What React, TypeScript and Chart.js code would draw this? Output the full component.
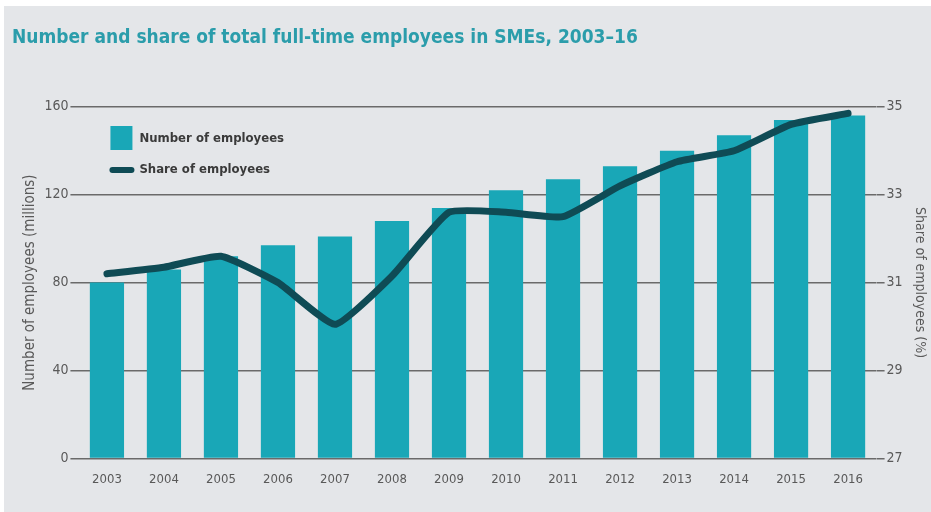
import React, { useEffect, useRef } from "react";
import { Chart, registerables } from "chart.js";

Chart.register(...registerables);

const years = ["2003", "2004", "2005", "2006", "2007", "2008", "2009", "2010", "2011", "2012", "2013", "2014", "2015", "2016"];
const employees = [80, 86, 92, 97, 101, 108, 114, 122, 127, 133, 140, 147, 154, 156];
const share = [31.2, 31.35, 31.6, 31.0, 30.05, 31.15, 32.6, 32.6, 32.5, 33.2, 33.75, 34.0, 34.6, 34.85];
const leftTicks = [0, 40, 80, 120, 160];
const rightTicks = [27, 29, 31, 33, 35];

const titleText = "Number and share of total full-time employees in SMEs, 2003–16";
const leftTitle = "Number of employees (millions)";
const rightTitle = "Share of employees (%)";
const barLabel = "Number of employees";
const lineLabel = "Share of employees";

const BAR = "#19a7b7";
const LINE = "#0f4b55";
const BG = "#e4e6e9";
const GRID = "#6a6a6a";
const TICK = "#595959";
const TICK_FONT = "'DejaVu Sans Condensed', sans-serif";
const BOLD_FONT = "'DejaVu Sans Condensed', sans-serif";

const legendPlugin = {
  id: "insideLegend",
  afterDatasetsDraw(chart: any) {
    const ctx = chart.ctx;
    const ca = chart.chartArea;
    const x0 = ca.left + 32;
    const ds = chart.data.datasets;
    ctx.save();
    ctx.fillStyle = BAR;
    ctx.fillRect(x0, 126, 22, 24);
    ctx.strokeStyle = LINE;
    ctx.lineWidth = 6;
    ctx.lineCap = "round";
    ctx.beginPath();
    ctx.moveTo(x0 + 2, 170);
    ctx.lineTo(x0 + 21, 170);
    ctx.stroke();
    ctx.fillStyle = "#3a3a3a";
    ctx.font = "bold 13px " + BOLD_FONT;
    ctx.textBaseline = "middle";
    ctx.textAlign = "left";
    ctx.fillText(ds[1].label, x0 + 29, 139);
    ctx.fillText(ds[0].label, x0 + 29, 170);
    ctx.restore();
  },
};

export default function App() {
  const ref = useRef<HTMLCanvasElement | null>(null);
  useEffect(() => {
    if (!ref.current) return;
    const chart = new Chart(ref.current, {
      type: "bar",
      data: {
        labels: years,
        datasets: [
          {
            type: "line",
            label: lineLabel,
            data: share,
            yAxisID: "y1",
            borderColor: LINE,
            backgroundColor: LINE,
            borderWidth: 7,
            pointRadius: 0,
            tension: 0.15,
            borderJoinStyle: "round",
            borderCapStyle: "round",
            order: 0,
          } as any,
          {
            type: "bar",
            label: barLabel,
            data: employees,
            yAxisID: "y",
            backgroundColor: BAR,
            barPercentage: 0.6,
            categoryPercentage: 1,
            order: 1,
          },
        ],
      },
      options: {
        animation: false,
        responsive: false,
        maintainAspectRatio: false,
        layout: { padding: { left: 12, right: 0, top: 0, bottom: 12 } },
        plugins: {
          legend: { display: false },
          tooltip: { enabled: false },
          title: {
            display: true,
            text: titleText,
            align: "start",
            color: "#2b9dab",
            font: { family: BOLD_FONT, size: 19, weight: "bold" },
            padding: { top: 27, bottom: 57 },
          },
        },
        scales: {
          x: {
            grid: { display: false, drawTicks: false },
            border: { display: false },
            ticks: { color: TICK, font: { family: TICK_FONT, size: 13 }, padding: 13, maxRotation: 0 },
          },
          y: {
            position: "left",
            min: leftTicks[0],
            max: leftTicks[leftTicks.length - 1],
            afterBuildTicks: (s: any) => { s.ticks = leftTicks.map((v) => ({ value: v })); },
            grid: { color: GRID, lineWidth: 1.5, tickLength: 8 },
            border: { display: false },
            ticks: { color: TICK, font: { family: TICK_FONT, size: 14 }, padding: 2 },
            title: {
              display: true,
              text: leftTitle,
              color: TICK,
              font: { family: TICK_FONT, size: 15 },
              padding: { top: 9, bottom: 3.4 },
            },
          },
          y1: {
            position: "right",
            min: rightTicks[0],
            max: rightTicks[rightTicks.length - 1],
            afterBuildTicks: (s: any) => { s.ticks = rightTicks.map((v) => ({ value: v })); },
            grid: { drawOnChartArea: false, color: GRID, lineWidth: 1.5, tickLength: 8 },
            border: { display: false },
            ticks: { color: TICK, font: { family: TICK_FONT, size: 14 }, padding: 2 },
            title: {
              display: true,
              text: rightTitle,
              color: TICK,
              font: { family: TICK_FONT, size: 14 },
              padding: { top: 2.6, bottom: 7 },
            },
          },
        },
      } as any,
      plugins: [legendPlugin],
    });
    return () => chart.destroy();
  }, []);

  return (
    <div style={{ position: "fixed", left: 0, top: 0, width: 931, height: 512, background: "#ffffff" }}>
      <div style={{ position: "absolute", left: 4, top: 6, right: 0, bottom: 0, background: BG }} />
      <canvas ref={ref} width={931} height={512} style={{ position: "absolute", left: 0, top: 0, width: 931, height: 512 }} />
    </div>
  );
}
